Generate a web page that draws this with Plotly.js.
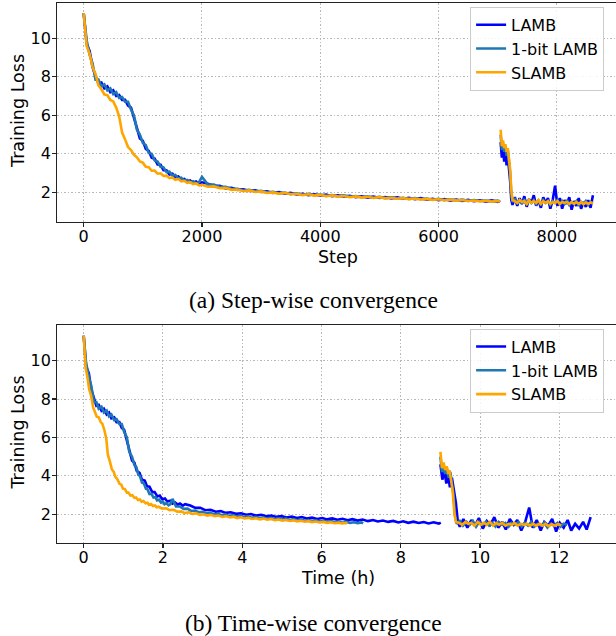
<!DOCTYPE html>
<html>
<head>
<meta charset="utf-8">
<script src="https://cdn.plot.ly/plotly-3.0.1.min.js"></script>
<style>html,body{margin:0;padding:0;background:#fff;}#chart{width:616px;height:636px;}</style>
</head>
<body>
<div id="chart"></div>
<script>
// ---------------- data ----------------
const seriesNames = ["LAMB", "1-bit LAMB", "SLAMB"];
const stepTicks = [0, 2000, 4000, 6000, 8000];
const timeTicks = [0, 2, 4, 6, 8, 10, 12];
const lossTicks = [2, 4, 6, 8, 10];

// phase 1 (seq. 128) and phase 2 (seq. 512) steps
const steps1 = [0,50,100,150,200,250,300,350,400,450,500,550,600,650,700,750,800,850,900,950,1000,1050,1100,1150,1200,1250,1300,1350,1400,1450,1500,1550,1600,1650,1700,1750,1800,1850,1900,1950,2000,2100,2200,2300,2400,2500,2600,2700,2800,2900,3000,3100,3200,3300,3400,3500,3600,3700,3800,3900,4000,4100,4200,4300,4400,4500,4600,4700,4800,4900,5000,5100,5200,5300,5400,5500,5600,5700,5800,5900,6000,6100,6200,6300,6400,6500,6600,6700,6800,6900,7000,7040];
const steps2 = [7050,7070,7090,7110,7130,7150,7170,7190,7210,7230,7250,7290,7330,7370,7410,7450,7490,7530,7570,7610,7650,7690,7730,7770,7810,7850,7890,7930,7970,8010,8050,8090,8130,8170,8210,8250,8290,8330,8370,8410,8450,8490,8530,8570,8610];

// training loss
const lambLoss1 = [11.3,9.7,9.35,8.5,8.05,7.65,7.7,7.4,7.5,7.2,7.3,7.0,7.05,6.8,6.8,6.5,6.4,5.8,5.35,4.8,4.68,4.25,4.15,3.8,3.75,3.45,3.43,3.15,3.15,2.93,2.97,2.78,2.82,2.66,2.7,2.55,2.62,2.5,2.56,2.45,2.52,2.45,2.33,2.34,2.21,2.23,2.13,2.16,2.07,2.1,2.02,2.05,1.97,2.01,1.93,1.97,1.89,1.93,1.86,1.9,1.83,1.88,1.8,1.85,1.78,1.82,1.75,1.8,1.73,1.78,1.71,1.76,1.69,1.74,1.67,1.72,1.64,1.7,1.62,1.67,1.6,1.65,1.57,1.63,1.55,1.61,1.54,1.59,1.52,1.58,1.51,1.56];
const lambLoss2 = [4.6,3.8,4.3,3.6,4.1,3.4,3.9,3.3,2.6,1.6,1.35,1.75,1.3,1.7,1.4,1.8,1.25,1.65,1.45,1.85,1.3,1.6,1.2,1.75,1.45,1.7,1.15,1.6,2.35,1.3,1.7,1.15,1.6,1.4,1.75,1.1,1.55,1.3,1.7,1.15,1.5,1.25,1.6,1.2,1.85];
const onebitLoss1 = [11.3,9.9,9.15,8.7,7.85,7.85,7.5,7.6,7.3,7.4,7.1,7.2,6.9,6.95,6.7,6.7,6.3,6.0,5.25,5.0,4.56,4.45,4.05,4.0,3.65,3.6,3.33,3.3,3.05,3.07,2.87,2.9,2.72,2.76,2.6,2.65,2.52,2.58,2.46,2.53,2.8,2.4,2.4,2.28,2.29,2.17,2.19,2.1,2.13,2.04,2.08,1.99,2.03,1.95,1.99,1.91,1.95,1.88,1.92,1.85,1.89,1.82,1.86,1.79,1.84,1.77,1.81,1.75,1.79,1.72,1.77,1.7,1.74,1.68,1.72,1.66,1.7,1.64,1.68,1.62,1.66,1.6,1.64,1.58,1.62,1.56,1.6,1.55,1.58,1.53,1.57,1.52];
const onebitLoss2 = [5.0,4.2,4.5,4.1,4.4,3.9,4.2,3.7,3.0,1.9,1.5,1.65,1.4,1.6,1.45,1.65,1.35,1.6,1.45,1.6,1.4,1.55,1.35,1.6,1.45,1.55,1.35,1.55,1.45,1.6,1.35,1.55,1.4,1.6,1.35,1.5,1.4,1.55,1.3,1.5,1.4,1.55,1.35,1.5,1.45];
const slambLoss1 = [11.3,9.6,9.2,8.5,8.15,7.55,7.35,7.08,7.05,6.8,6.72,6.4,5.95,5.1,4.75,4.35,4.2,3.95,3.82,3.6,3.54,3.33,3.31,3.12,3.13,2.97,2.99,2.85,2.87,2.74,2.77,2.65,2.69,2.57,2.6,2.49,2.53,2.43,2.46,2.36,2.39,2.29,2.31,2.21,2.23,2.13,2.15,2.06,2.1,2.02,2.05,1.97,2.0,1.93,1.97,1.9,1.93,1.86,1.9,1.83,1.87,1.8,1.84,1.78,1.81,1.75,1.79,1.73,1.77,1.71,1.75,1.69,1.72,1.67,1.7,1.65,1.68,1.63,1.66,1.61,1.64,1.59,1.62,1.57,1.6,1.55,1.58,1.53,1.56,1.52,1.55,1.52];
const slambLoss2 = [5.25,4.4,4.7,4.3,4.5,4.1,4.3,3.8,3.2,2.1,1.6,1.55,1.45,1.6,1.5,1.55,1.4,1.6,1.45,1.55,1.45,1.6,1.4,1.55,1.45,1.55,1.4,1.5,1.45,1.55,1.4,1.5,1.45,1.5,1.4,1.5,1.4,1.5,1.4,1.5,1.38,1.48,1.4,1.48,1.42];

// wall-clock time (hours) at the same points
const lambTime1 = [0,0.06,0.13,0.19,0.26,0.32,0.38,0.45,0.51,0.58,0.64,0.7,0.77,0.83,0.9,0.96,1.02,1.09,1.15,1.22,1.28,1.34,1.41,1.47,1.54,1.6,1.66,1.73,1.79,1.86,1.92,1.98,2.05,2.11,2.18,2.24,2.3,2.37,2.43,2.5,2.56,2.69,2.82,2.94,3.07,3.2,3.33,3.46,3.58,3.71,3.84,3.97,4.1,4.22,4.35,4.48,4.61,4.74,4.86,4.99,5.12,5.25,5.38,5.5,5.63,5.76,5.89,6.02,6.14,6.27,6.4,6.53,6.66,6.78,6.91,7.04,7.17,7.3,7.42,7.55,7.68,7.81,7.94,8.06,8.19,8.32,8.45,8.58,8.7,8.83,8.96,9.01];
const lambTime2 = [9.0,9.05,9.1,9.15,9.19,9.24,9.29,9.34,9.39,9.44,9.49,9.58,9.68,9.78,9.87,9.97,10.07,10.17,10.26,10.36,10.46,10.56,10.65,10.75,10.85,10.94,11.04,11.14,11.24,11.33,11.43,11.53,11.62,11.72,11.82,11.92,12.01,12.11,12.21,12.3,12.4,12.5,12.6,12.69,12.79];
const onebitTime1 = [0,0.06,0.13,0.19,0.26,0.32,0.38,0.45,0.51,0.58,0.64,0.7,0.77,0.83,0.9,0.96,1.02,1.09,1.15,1.22,1.28,1.33,1.38,1.42,1.47,1.52,1.57,1.61,1.66,1.71,1.76,1.81,1.85,1.9,1.95,2.0,2.04,2.09,2.14,2.19,2.24,2.33,2.43,2.52,2.62,2.71,2.81,2.9,3.0,3.09,3.19,3.29,3.38,3.48,3.57,3.67,3.76,3.86,3.95,4.05,4.15,4.24,4.34,4.43,4.53,4.62,4.72,4.81,4.91,5.0,5.1,5.2,5.29,5.39,5.48,5.58,5.67,5.77,5.86,5.96,6.06,6.15,6.25,6.34,6.44,6.53,6.63,6.72,6.82,6.91,7.01,7.05];
const onebitTime2 = [9.0,9.04,9.08,9.12,9.16,9.21,9.25,9.29,9.33,9.37,9.41,9.49,9.57,9.66,9.74,9.82,9.9,9.98,10.06,10.15,10.23,10.31,10.39,10.47,10.56,10.64,10.72,10.8,10.88,10.97,11.05,11.13,11.21,11.29,11.37,11.46,11.54,11.62,11.7,11.78,11.87,11.95,12.03,12.11,12.2];
const slambTime1 = [0,0.05,0.09,0.14,0.19,0.24,0.28,0.33,0.38,0.43,0.47,0.52,0.57,0.61,0.66,0.71,0.76,0.8,0.85,0.9,0.95,0.99,1.04,1.09,1.13,1.18,1.23,1.28,1.32,1.37,1.42,1.46,1.51,1.56,1.61,1.65,1.7,1.75,1.8,1.84,1.89,1.98,2.08,2.17,2.27,2.36,2.46,2.55,2.65,2.74,2.84,2.93,3.02,3.12,3.21,3.31,3.4,3.5,3.59,3.69,3.78,3.87,3.97,4.06,4.16,4.25,4.35,4.44,4.54,4.63,4.73,4.82,4.91,5.01,5.1,5.2,5.29,5.39,5.48,5.58,5.67,5.76,5.86,5.95,6.05,6.14,6.24,6.33,6.43,6.52,6.62,6.65];
const slambTime2 = [9.0,9.04,9.08,9.12,9.16,9.2,9.23,9.27,9.31,9.35,9.39,9.47,9.55,9.63,9.7,9.78,9.86,9.94,10.02,10.09,10.17,10.25,10.33,10.41,10.48,10.56,10.64,10.72,10.8,10.87,10.95,11.03,11.11,11.19,11.26,11.34,11.42,11.5,11.58,11.65,11.73,11.81,11.89,11.97,12.05];

// ---------------- styling ----------------
const colors = ["#0000ff", "#1f77b4", "#ffa500"];
const join = (a, b) => a.concat([null], b);

const lossSets = [[lambLoss1, lambLoss2], [onebitLoss1, onebitLoss2], [slambLoss1, slambLoss2]];
const timeSets = [[lambTime1, lambTime2], [onebitTime1, onebitTime2], [slambTime1, slambTime2]];

const traces = [];
seriesNames.forEach((name, i) => {
  traces.push({
    type: "scatter", mode: "lines", name: name,
    x: join(steps1, steps2), y: join(lossSets[i][0], lossSets[i][1]),
    xaxis: "x", yaxis: "y", legend: "legend",
    line: { color: colors[i], width: 2.6 }, connectgaps: false, hoverinfo: "skip"
  });
});
seriesNames.forEach((name, i) => {
  traces.push({
    type: "scatter", mode: "lines", name: name,
    x: join(timeSets[i][0], timeSets[i][1]), y: join(lossSets[i][0], lossSets[i][1]),
    xaxis: "x2", yaxis: "y2", legend: "legend2",
    line: { color: colors[i], width: 2.6 }, connectgaps: false, hoverinfo: "skip"
  });
});

const tickFont = { family: "DejaVu Sans", size: 16, color: "#000" };
const titleFont = { family: "DejaVu Sans", size: 17.5, color: "#000" };
const axisCommon = {
  showgrid: true, gridcolor: "#b8b8b8", gridwidth: 1, griddash: "1.5px,2px",
  showline: true, linecolor: "#222", linewidth: 1.4,
  ticks: "outside", ticklen: 3.5, tickwidth: 1.2, tickcolor: "#222",
  tickfont: tickFont, zeroline: false, automargin: false
};
const xAxisCommon = Object.assign({}, axisCommon, { ticklabelstandoff: -4, mirror: true });
const yAxisCommon = Object.assign({}, axisCommon, { ticklabelstandoff: -2 });
const legendCommon = {
  xanchor: "left", yanchor: "top", bgcolor: "rgba(255,255,255,0.85)",
  bordercolor: "#cccccc", borderwidth: 1,
  font: { family: "DejaVu Sans", size: 16, color: "#000" }
};

const captionFont = { family: "Liberation Serif", size: 23.5, color: "#000" };
const ann = (text, x, y, extra) => Object.assign({
  text: text, xref: "paper", yref: "paper", x: x, y: y,
  xanchor: "center", yanchor: "middle", showarrow: false, font: titleFont
}, extra || {});

const layout = {
  width: 616, height: 636,
  margin: { l: 57, r: 0, t: 3, b: 93 },
  paper_bgcolor: "#fff", plot_bgcolor: "#fff",
  showlegend: true,
  xaxis: Object.assign({}, xAxisCommon, {
    domain: [0, 1], anchor: "y", range: [-451, 9000], tickvals: stepTicks
  }),
  yaxis: Object.assign({}, yAxisCommon, {
    domain: [0.5944, 1], anchor: "x", range: [0.46, 11.83], tickvals: lossTicks
  }),
  xaxis2: Object.assign({}, xAxisCommon, {
    domain: [0, 1], anchor: "y2", range: [-0.673, 13.43], tickvals: timeTicks
  }),
  yaxis2: Object.assign({}, yAxisCommon, {
    domain: [0, 0.4037], anchor: "x2", range: [0.5, 11.86], tickvals: lossTicks
  }),
  legend: Object.assign({}, legendCommon, { x: 0.739, y: 0.993 }),
  legend2: Object.assign({}, legendCommon, { x: 0.739, y: 0.397 }),
  annotations: [
    ann("Step", 0.5027, 0.5296),
    ann("Time (h)", 0.5027, -0.0648),
    ann("Training Loss", -0.0698, 0.8, { textangle: -90 }),
    ann("Training Loss", -0.0698, 0.2046, { textangle: -90 }),
    ann("(a) Step-wise convergence", 0.459, 0.45, { font: captionFont }),
    ann("(b) Time-wise convergence", 0.459, -0.148, { font: captionFont })
  ]
};

Plotly.newPlot("chart", traces, layout, { staticPlot: true, displayModeBar: false });
</script>
</body>
</html>
